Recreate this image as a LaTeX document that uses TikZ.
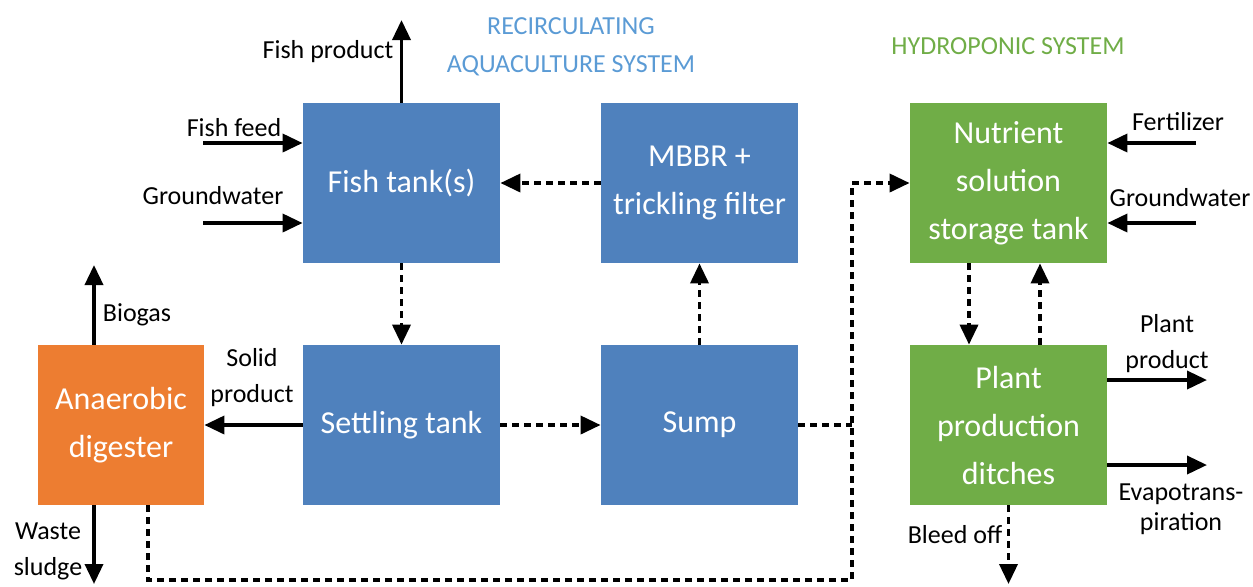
\documentclass[tikz,border=0pt]{standalone}
\usepackage{fontspec}
\setmainfont{Carlito}
\usetikzlibrary{arrows.meta,positioning,calc}
\definecolor{rasColor}{HTML}{4F81BD}
\definecolor{adColor}{HTML}{ED7D31}
\definecolor{hydColor}{HTML}{70AD47}
\definecolor{rasTitle}{HTML}{5B9BD5}
\tikzset{unit box/.style={fill=#1, text=white, minimum width=98.5pt, minimum height=80pt,
		align=center, inner sep=0pt, font=\fontsize{16}{24}\selectfont}}
\tikzset{flow/.style={-{Triangle[length=10pt,width=9pt]}, line width=1.8pt}}
\tikzset{water line/.style={line width=1.8pt, dash pattern=on 3.5pt off 2.5pt}}
\tikzset{water/.style={water line, -{Triangle[length=10pt,width=9pt]}}}
\tikzset{lab/.style={font=\fontsize{13}{18}\selectfont, align=center, inner sep=1pt}}
\begin{document}
\begin{tikzpicture}[x=0.5pt,y=-0.5pt]
	\useasboundingbox (0,0) rectangle (1253,586);
	% units
	\node[unit box=rasColor] at (401.5,183) (fish) {Fish tank(s)};
	\node[unit box=rasColor] at (699.5,183) (mbbr) {MBBR +\\trickling filter};
	\node[unit box=rasColor] at (401.5,425) (settle) {Settling tank};
	\node[unit box=rasColor] at (699.5,425) (sump) {Sump};
	\node[unit box=adColor, minimum width=83pt] at (121,425) (ad) {Anaerobic\\digester};
	\node[unit box=hydColor] at (1008.5,183) (nut) {Nutrient\\solution\\storage tank};
	\node[unit box=hydColor] at (1008.5,425) (plant) {Plant\\production\\ditches};
	% titles
	\node[lab, text=rasTitle, font=\fontsize{13}{19}\selectfont] at (571,47) (rasT) {RECIRCULATING\\AQUACULTURE SYSTEM};
	\node[lab, text=hydColor] at (1008,46) (hydT) {HYDROPONIC SYSTEM};
	% free ends
	\coordinate (fp) at (401.5,20);
	\coordinate (feed) at (203,143);
	\coordinate (gw) at (203,223);
	\coordinate (bg) at (94,265);
	\coordinate (ws) at (94,584);
	\coordinate (dbot) at (148,580);
	\coordinate (cor) at (852,580);
	\coordinate (ctop) at (852,183);
	\coordinate (down) at (969,0);
	\coordinate (up) at (1040,0);
	\coordinate (fert) at (1196,143);
	\coordinate (gw2) at (1196,223);
	\coordinate (pp) at (1207,380);
	\coordinate (evap) at (1207,465);
	\coordinate (bleed) at (1008.5,584);
	% fish side
	\draw[flow] (fish) -- (fp);
	\draw[flow] (feed) -- (feed -| fish.west);
	\draw[flow] (gw) -- (gw -| fish.west);
	\node[lab] at (328,52) (fpLab) {Fish product};
	\node[lab] at (234,128) (feedLab) {Fish feed};
	\node[lab] at (213,196) (gwLab) {Groundwater};
	% water loop
	\draw[water] (mbbr) -- (fish);
	\draw[water] (fish) -- (settle);
	\draw[water] (settle) -- (sump);
	\draw[water] (sump) -- (mbbr);
	% solids
	\draw[flow] (settle) -- (ad);
	\node[lab] at (252,378) (solLab) {Solid\\product};
	\draw[flow] (ad.north -| bg) -- (bg);
	\node[lab] at (137,315) (bgLab) {Biogas};
	\draw[flow] (ad.south -| ws) -- (ws);
	\node[lab] at (48,551) (wsLab) {Waste\\sludge};
	% to hydroponics
	\draw[water line] (sump) -- (sump.east -| cor);
	\draw[water] (ad.south -| dbot) -- (dbot) -- (cor) -- (ctop) -- (nut);
	\draw[water] (nut.south -| down) -- (plant.north -| down);
	\draw[water] (plant.north -| up) -- (nut.south -| up);
	% hydroponic side
	\draw[flow] (fert) -- (fert -| nut.east);
	\draw[flow] (gw2) -- (gw2 -| nut.east);
	\node[lab] at (1178,122) (fertLab) {Fertilizer};
	\node[lab] at (1180,198) (gw2Lab) {Groundwater};
	\draw[flow] (pp -| plant.east) -- (pp);
	\draw[flow] (evap -| plant.east) -- (evap);
	\node[lab] at (1167,344) (ppLab) {Plant\\product};
	\node[lab, font=\fontsize{13}{15}\selectfont] at (1181,509) (evLab) {Evapotrans-\\piration};
	\draw[water] (plant) -- (bleed);
	\node[lab] at (955,535) (blLab) {Bleed off};
\end{tikzpicture}
\end{document}
